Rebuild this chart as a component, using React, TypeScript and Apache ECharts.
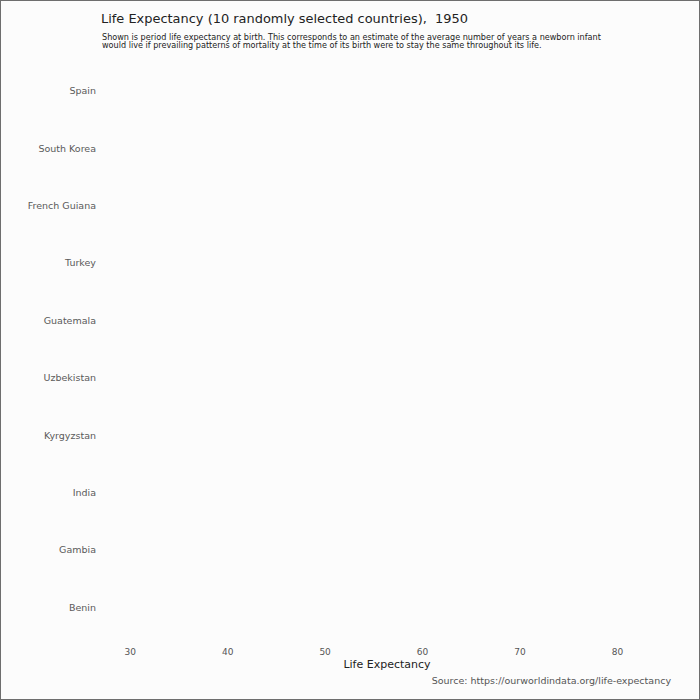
import React, { useEffect, useRef } from "react";
import * as echarts from "echarts";

const countries = [
  "Spain",
  "South Korea",
  "French Guiana",
  "Turkey",
  "Guatemala",
  "Uzbekistan",
  "Kyrgyzstan",
  "India",
  "Gambia",
  "Benin",
];
// No bars are drawn in the reference frame (1950): values not yet shown.
const lifeExpectancy: (number | null)[] = [null, null, null, null, null, null, null, null, null, null];
const xTicks = [30, 40, 50, 60, 70, 80];
const xMin = 27;
const xMax = 85.5;
const titleText = "Life Expectancy (10 randomly selected countries),  1950";
const subtitleLines = [
  "Shown is period life expectancy at birth. This corresponds to an estimate of the average number of years a newborn infant",
  "would live if prevailing patterns of mortality at the time of its birth were to stay the same throughout its life.",
];
const xAxisTitle = "Life Expectancy";
const sourceText = "Source: https://ourworldindata.org/life-expectancy";

export default function App() {
  const ref = useRef<HTMLDivElement>(null);
  useEffect(() => {
    document.body.style.margin = "0";
    if (!ref.current) return;
    const chart = echarts.init(ref.current, undefined, { renderer: "svg" });
    chart.setOption({
      animation: false,
      backgroundColor: "transparent",
      textStyle: { fontFamily: "DejaVu Sans" },
      grid: { left: 100, right: 28, top: 61, bottom: 63, containLabel: false },
      xAxis: {
        type: "value",
        min: xMin,
        max: xMax,
        axisLine: { show: false },
        axisTick: { show: false },
        splitLine: { show: false },
        axisLabel: {
          color: "#555",
          fontSize: 9,
          margin: 11,
          formatter: (v: number) => (xTicks.indexOf(Math.round(v * 1000) / 1000) >= 0 ? String(v) : ""),
        },
      },
      yAxis: {
        type: "category",
        data: countries,
        inverse: true,
        axisLine: { show: false },
        axisTick: { show: false },
        splitLine: { show: false },
        axisLabel: { color: "#5a5a5a", fontSize: 9.5, margin: 5 },
      },
      series: [
        {
          type: "bar",
          data: lifeExpectancy,
          itemStyle: { color: "#4c72b0" },
        },
      ],
      graphic: [
        {
          type: "text",
          left: 100,
          top: 11,
          style: { text: titleText, fill: "#222", fontSize: 12.95, fontFamily: "DejaVu Sans" },
        },
        {
          type: "text",
          left: 101,
          top: 31,
          style: {
            text: subtitleLines.join("\n"),
            fill: "#222",
            fontSize: 9,
            lineHeight: 8.6,
            fontFamily: "DejaVu Sans Condensed",
          },
        },
        {
          type: "text",
          x: 386,
          y: 663,
          style: {
            text: xAxisTitle,
            fill: "#222",
            fontSize: 11,
            fontFamily: "DejaVu Sans",
            align: "center",
            verticalAlign: "middle",
          },
        },
        {
          type: "text",
          right: 28,
          top: 674,
          style: { text: sourceText, fill: "#555", fontSize: 9.5, fontFamily: "DejaVu Sans" },
        },
      ],
    });
    return () => chart.dispose();
  }, []);
  return (
    <div
      style={{
        position: "absolute",
        left: 0,
        top: 0,
        width: 700,
        height: 700,
        boxSizing: "border-box",
        border: "1px solid #6e6e6e",
        background: "#fcfcfc",
      }}
    >
      <div ref={ref} style={{ width: 698, height: 698 }} />
    </div>
  );
}
